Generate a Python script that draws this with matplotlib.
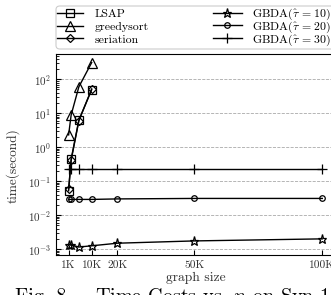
import numpy as np
import matplotlib
matplotlib.use('Agg')
import matplotlib.pyplot as plt
from matplotlib.patches import FancyBboxPatch

plt.rcParams['font.family'] = 'serif'
plt.rcParams['font.serif'] = ['cmr10', 'DejaVu Serif']
plt.rcParams['mathtext.fontset'] = 'cm'
plt.rcParams['axes.unicode_minus'] = False
plt.rcParams['axes.formatter.use_mathtext'] = True

# data
sizes_small = [1000, 2000, 5000, 10000]
sizes_all = [1000, 2000, 5000, 10000, 20000, 50000, 100000]

lsap = [0.052, 0.45, 6.3, 49]
greedysort = [2.3, 9.0, 60, 310]
seriation = [0.06, 0.42, 6.0, 52]
gbda10 = [0.00135, 0.00130, 0.00115, 0.00125, 0.00149, 0.00174, 0.0020]
gbda20 = [0.029, 0.029, 0.029, 0.029, 0.030, 0.031, 0.031]
gbda30 = [0.23, 0.23, 0.23, 0.23, 0.23, 0.23, 0.23]

xticks = [1000, 10000, 20000, 50000, 100000]
xticklabels = ['1K', '10K', '20K', '50K', '100K']

W, H = 331, 295
fig = plt.figure(figsize=(W / 100, H / 100), dpi=100)
ax = fig.add_axes([0.169, 0.1356, 0.843, 0.681])

kw = dict(color='black', lw=1.0, fillstyle='none', mew=0.9)
l1, = ax.plot(sizes_small, lsap, marker='s', ms=5.5, label='LSAP', **kw)
l2, = ax.plot(sizes_small, greedysort, marker='^', ms=6.5, label='greedysort', **kw)
l3, = ax.plot(sizes_small, seriation, marker='D', ms=4.5, label='seriation', **kw)
l4, = ax.plot(sizes_all, gbda10, marker='*', ms=6.5, label=r'GBDA($\hat{\tau}\,=\,10$)', **kw)
l5, = ax.plot(sizes_all, gbda20, marker='o', ms=4, label=r'GBDA($\hat{\tau}\,=\,20$)', **kw)
l6, = ax.plot(sizes_all, gbda30, marker='+', ms=7, label=r'GBDA($\hat{\tau}\,=\,30$)', **kw)

ax.set_yscale('log')
ax.set_ylim(6.7e-4, 550)
ax.set_xlim(-3950, 104950)
ax.set_xticks(xticks)
ax.set_xticklabels(xticklabels)
ax.tick_params(axis='x', direction='in', labelsize=8.2, labelcolor='#333333', pad=4)
ax.tick_params(axis='y', direction='in', labelsize=8, labelcolor='#333333')
ax.tick_params(which='minor', direction='in')
ax.grid(axis='y', which='major', ls='--', color='#aaaaaa', lw=0.6)

ax.set_xlabel('graph size', fontsize=9.8, labelpad=1, color='#333333')
ax.set_ylabel('time(second)', fontsize=9.6, color='#333333')
ax.yaxis.set_label_coords(-0.129, 0.443)

# legend drawn as two columns so that the rows line up
lkw = dict(loc='upper left', fontsize=8.5, frameon=False, borderpad=0,
           borderaxespad=0)
leg1 = fig.legend([l1, l2, l3], [l.get_label() for l in (l1, l2, l3)],
                  bbox_to_anchor=(57 / W, 1 - 9 / H), labelspacing=0.2,
                  handlelength=2.2, handletextpad=1.0, **lkw)
leg2 = fig.legend([l4, l5, l6], [l.get_label() for l in (l4, l5, l6)],
                  bbox_to_anchor=(213 / W, 1 - 6.5 / H), labelspacing=-0.2,
                  handlelength=2.45, handletextpad=0.85, **lkw)
frame = FancyBboxPatch((56 / W, 1 - 49 / H), 290 / W, 43 / H,
                       boxstyle='round,pad=0,rounding_size=0.012',
                       transform=fig.transFigure, facecolor='none',
                       edgecolor='#cccccc', lw=0.8)
fig.patches.append(frame)

fig.text(0.045, -0.023, 'Fig. 8.', fontsize=14.5, va='baseline')
fig.text(0.287, -0.023, r'Time Costs vs. $n$ on Syn-1', fontsize=14.5, va='baseline')

fig.savefig('out.png', dpi=100)
